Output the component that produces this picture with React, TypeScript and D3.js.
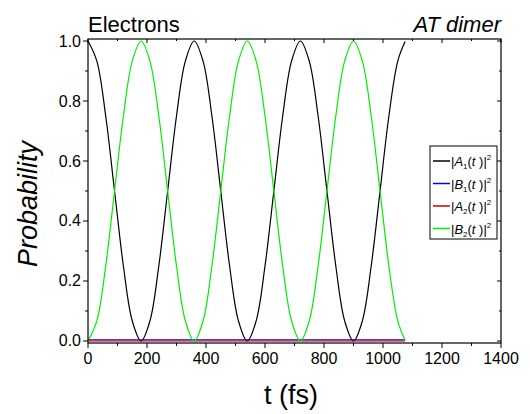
import React from "react";
import * as d3 from "d3";

const times = [0, 30, 60, 90, 120, 150, 180, 210, 240, 270, 300, 330, 360, 390, 420, 450, 480, 510, 540, 570, 600, 630, 660, 690, 720, 750, 780, 810, 840, 870, 900, 930, 960, 990, 1020, 1050, 1075];
const probA1 = [1.0, 0.933, 0.75, 0.5, 0.25, 0.067, 0.0, 0.067, 0.25, 0.5, 0.75, 0.933, 1.0, 0.933, 0.75, 0.5, 0.25, 0.067, 0.0, 0.067, 0.25, 0.5, 0.75, 0.933, 1.0, 0.933, 0.75, 0.5, 0.25, 0.067, 0.0, 0.067, 0.25, 0.5, 0.75, 0.933, 0.998];
const probB2 = [0.0, 0.067, 0.25, 0.5, 0.75, 0.933, 1.0, 0.933, 0.75, 0.5, 0.25, 0.067, 0.0, 0.067, 0.25, 0.5, 0.75, 0.933, 1.0, 0.933, 0.75, 0.5, 0.25, 0.067, 0.0, 0.067, 0.25, 0.5, 0.75, 0.933, 1.0, 0.933, 0.75, 0.5, 0.25, 0.067, 0.002];
const probB1 = [0.004, 0.004, 0.004, 0.004, 0.004, 0.004, 0.004, 0.004, 0.004, 0.004, 0.004, 0.004, 0.004, 0.004, 0.004, 0.004, 0.004, 0.004, 0.004, 0.004, 0.004, 0.004, 0.004, 0.004, 0.004, 0.004, 0.004, 0.004, 0.004, 0.004, 0.004, 0.004, 0.004, 0.004, 0.004, 0.004, 0.004];
const probA2 = [0.0, 0.0, 0.0, 0.0, 0.0, 0.0, 0.0, 0.0, 0.0, 0.0, 0.0, 0.0, 0.0, 0.0, 0.0, 0.0, 0.0, 0.0, 0.0, 0.0, 0.0, 0.0, 0.0, 0.0, 0.0, 0.0, 0.0, 0.0, 0.0, 0.0, 0.0, 0.0, 0.0, 0.0, 0.0, 0.0, 0.0];

const xTicks = [0, 200, 400, 600, 800, 1000, 1200, 1400];
const xMinor = [100, 300, 500, 700, 900, 1100, 1300];
const yTicks = [0, 0.2, 0.4, 0.6, 0.8, 1.0];
const yMinor = [0.1, 0.3, 0.5, 0.7, 0.9];

const seriesNames = ["A", "B", "A", "B"];
const seriesSubs = ["1", "1", "2", "2"];
const seriesColors = ["#000000", "#0000ff", "#cc0000", "#00ee00"];
const seriesData = [probA1, probB1, probA2, probB2];

const FONT = "'Liberation Sans', Arial, sans-serif";

export default function App() {
  const W = 530, H = 414;
  const left = 88, right = 501, top = 39, bottom = 343;
  const x = d3.scaleLinear().domain([0, 1400]).range([left, right]);
  const y = d3.scaleLinear().domain([-0.0067, 1.0067]).range([bottom, top]);

  const line = (vals: number[]) =>
    d3.line<number>()
      .x((_, i) => x(times[i]))
      .y((v) => y(v))
      .curve(d3.curveCatmullRom)(vals) || "";

  const legX = 430, legY = 146, legW = 67, legH = 93;

  return (
    <svg width={W} height={H} style={{ position: "absolute", left: 0, top: 0, background: "#fff" }} fontFamily={FONT}>
      <rect width={W} height={H} fill="#fff" />
      {seriesData.map((vals, i) => (
        <path key={i} d={line(vals)} fill="none" stroke={seriesColors[i]} strokeWidth={1.2} />
      ))}
      <rect x={left} y={top} width={right - left} height={bottom - top} fill="none" stroke="#000" strokeWidth={1.2} />
      {xTicks.map((t) => (
        <g key={"x" + t}>
          <line x1={x(t)} x2={x(t)} y1={bottom} y2={bottom + 5} stroke="#000" />
          <line x1={x(t)} x2={x(t)} y1={top} y2={top + 4} stroke="#000" />
          <text x={x(t)} y={bottom + 21} textAnchor="middle" fontSize={16}>{t}</text>
        </g>
      ))}
      {xMinor.map((t) => (
        <g key={"xm" + t}>
          <line x1={x(t)} x2={x(t)} y1={bottom} y2={bottom + 3} stroke="#000" />
          <line x1={x(t)} x2={x(t)} y1={top} y2={top + 2} stroke="#000" />
        </g>
      ))}
      {yTicks.map((v) => (
        <g key={"y" + v}>
          <line x1={left - 5} x2={left} y1={y(v)} y2={y(v)} stroke="#000" />
          <line x1={right - 4} x2={right} y1={y(v)} y2={y(v)} stroke="#000" />
          <text x={left - 7} y={y(v) + 5.5} textAnchor="end" fontSize={16}>{v.toFixed(1)}</text>
        </g>
      ))}
      {yMinor.map((v) => (
        <g key={"ym" + v}>
          <line x1={left - 3} x2={left} y1={y(v)} y2={y(v)} stroke="#000" />
          <line x1={right - 2} x2={right} y1={y(v)} y2={y(v)} stroke="#000" />
        </g>
      ))}
      <text x={left} y={32} fontSize={22}>Electrons</text>
      <text x={right} y={32} fontSize={22} fontStyle="italic" textAnchor="end">AT dimer</text>
      <text x={291} y={404} fontSize={27} textAnchor="middle">t (fs)</text>
      <text transform={`translate(37,204) rotate(-90)`} fontSize={27} fontStyle="italic" textAnchor="middle">Probability</text>
      <rect x={legX} y={legY} width={legW} height={legH} fill="#fff" stroke="#000" strokeWidth={1} />
      {seriesNames.map((n, i) => {
        const ly = legY + 15 + i * 22.5;
        return (
          <g key={"leg" + i}>
            <line x1={legX + 3} x2={legX + 20} y1={ly} y2={ly} stroke={seriesColors[i]} strokeWidth={1.5} />
            <text x={legX + 21} y={ly + 5} fontSize={13}>
              |<tspan fontStyle="italic">{n}</tspan>
              <tspan fontSize={8} dy={3}>{seriesSubs[i]}</tspan>
              <tspan dy={-3}>(</tspan><tspan fontStyle="italic">t</tspan> )|
              <tspan fontSize={8} dy={-6}>2</tspan>
            </text>
          </g>
        );
      })}
    </svg>
  );
}
